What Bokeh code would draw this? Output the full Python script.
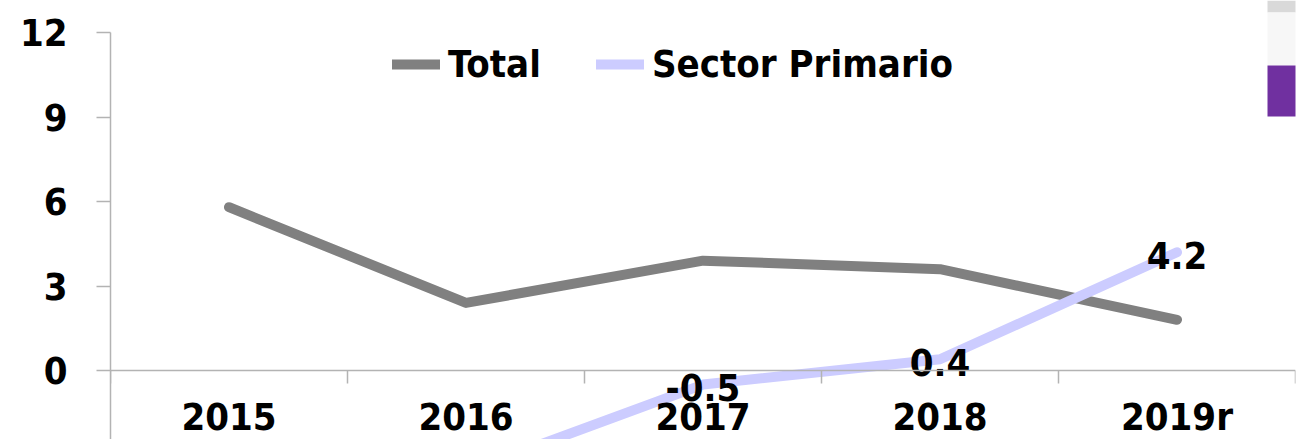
from bokeh.plotting import figure
from bokeh.models import (Range1d, LinearAxis, FixedTicker,
                          Legend, LegendItem, Label, BoxAnnotation)
from bokeh.embed import file_html
from bokeh.resources import INLINE
from bokeh.core.properties import value

# ---- data ----
years = ["2015", "2016", "2017", "2018", "2019r"]
total = [5.8, 2.4, 3.9, 3.6, 1.8]
primario = [-4.0, -3.6, -0.5, 0.4, 4.2]
y_ticks = [-3, 0, 3, 6, 9, 12]
series_names = ["Total", "Sector Primario"]

# category centres on a numeric axis (one unit per category)
xs = [i + 0.5 for i in range(len(years))]
bounds = list(range(len(years) + 1))

FONT = ("'Liberation Sans Narrow', 'Arial Narrow', 'Nimbus Sans Narrow', "
        "'DejaVu Sans Condensed', 'Liberation Sans', sans-serif")
FS = "38px"
GREY_AXIS = "#b3b3b3"

Y_MIN, Y_MAX = -2.45, 13.14
p = figure(width=1296, height=439,
           x_range=Range1d(0, len(years)), y_range=Range1d(Y_MIN, Y_MAX),
           x_axis_location=None,
           output_backend="svg", toolbar_location=None,
           min_border_left=110, min_border_right=1,
           min_border_top=0, min_border_bottom=0)
p.outline_line_color = None
p.grid.visible = False
p.background_fill_color = "white"

# y axis
ya = p.yaxis[0]
ya.ticker = FixedTicker(ticks=y_ticks)
ya.bounds = (y_ticks[0], y_ticks[-1])
ya.major_tick_out = 14
ya.major_tick_in = 0
ya.minor_tick_out = 0
ya.minor_tick_in = 0
ya.axis_line_color = GREY_AXIS
ya.axis_line_width = 1.5
ya.major_tick_line_color = GREY_AXIS
ya.major_tick_line_width = 1.5
ya.major_label_standoff = 29
ya.major_label_text_font = FONT
ya.major_label_text_font_style = "bold"
ya.major_label_text_font_size = FS
ya.major_label_text_color = "black"

# x axis at y = 0 : boundary ticks
xa_ticks = LinearAxis(fixed_location=0, ticker=FixedTicker(ticks=bounds))
xa_ticks.major_tick_out = 13
xa_ticks.major_tick_in = 0
xa_ticks.minor_tick_out = 0
xa_ticks.minor_tick_in = 0
xa_ticks.axis_line_color = GREY_AXIS
xa_ticks.axis_line_width = 1.5
xa_ticks.major_tick_line_color = GREY_AXIS
xa_ticks.major_tick_line_width = 1.5
xa_ticks.major_label_text_color = None
p.add_layout(xa_ticks, "below")

# x axis category labels
xa_lab = LinearAxis(fixed_location=0, ticker=FixedTicker(ticks=xs),
                    major_label_overrides={x: y for x, y in zip(xs, years)})
xa_lab.axis_line_color = None
xa_lab.major_tick_line_color = None
xa_lab.minor_tick_line_color = None
xa_lab.major_tick_out = 0
xa_lab.major_tick_in = 0
xa_lab.minor_tick_out = 0
xa_lab.minor_tick_in = 0
xa_lab.major_label_standoff = 24
xa_lab.major_label_text_font = FONT
xa_lab.major_label_text_font_style = "bold"
xa_lab.major_label_text_font_size = FS
xa_lab.major_label_text_color = "black"
p.add_layout(xa_lab, "below")

# partial -3 label at the bottom edge (cut off in the original crop as well)
p.add_layout(Label(x=0, y=y_ticks[0], x_offset=-(14 + 29), y_offset=5,
                   text=str(y_ticks[0]),
                   text_align="right", text_baseline="middle",
                   text_font=FONT, text_font_style="bold", text_font_size=FS,
                   text_color="black"))

# lines
r_total = p.line(x=xs, y=total, line_width=10, line_color="#808080",
                 line_cap="round", line_join="round")
r_prim = p.line(x=xs, y=primario, line_width=10, line_color="#ccccff",
                line_cap="round", line_join="round")

# data labels (only those whose point lies inside the visible range)
vis = [i for i, v in enumerate(primario) if Y_MIN <= v <= Y_MAX]
p.text(x=[xs[i] for i in vis], y=[primario[i] for i in vis],
       text=[f"{primario[i]:.1f}" for i in vis],
       text_font=value(FONT), text_font_style="bold", text_font_size=FS,
       text_color="black", text_align="center", text_baseline="middle", y_offset=3)

# legend
legend = Legend(items=[LegendItem(label=series_names[0], renderers=[r_total]),
                       LegendItem(label=series_names[1], renderers=[r_prim])],
                orientation="horizontal", location=(282, 353),
                border_line_color=None, background_fill_alpha=0,
                glyph_width=48, glyph_height=30, label_standoff=8, spacing=55,
                padding=0, margin=0,
                label_text_font=FONT, label_text_font_style="bold",
                label_text_font_size=FS, label_text_color="black")
p.add_layout(legend)

# fragments of a neighbouring graphic at the top right edge
for top, bottom, col in [(0, 12, "#d9d9d9"), (12, 65, "#f7f7f7"), (65, 116, "#7030a0")]:
    p.add_layout(BoxAnnotation(left=1267, right=1296, top=top, bottom=bottom,
                               left_units="canvas", right_units="canvas",
                               top_units="canvas", bottom_units="canvas",
                               fill_color=col, fill_alpha=1, line_color=None,
                               level="overlay"))

open("out.html", "w").write(file_html(p, INLINE))
